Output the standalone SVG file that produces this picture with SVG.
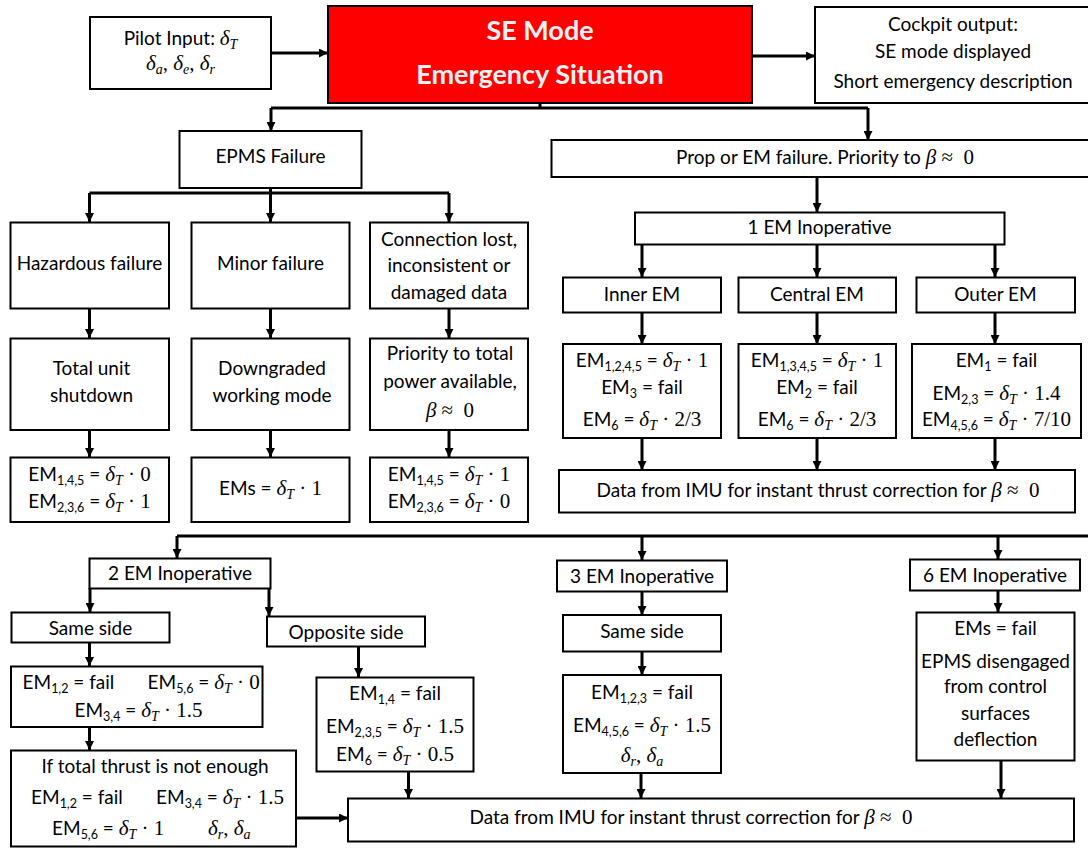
<svg xmlns="http://www.w3.org/2000/svg" width="1088" height="848" viewBox="0 0 1088 848">
<defs>
<marker id="ah" viewBox="0 0 10 10" refX="10" refY="5" markerWidth="9" markerHeight="9" markerUnits="userSpaceOnUse" orient="auto">
<path d="M0,0 L10,5 L0,10 z" fill="#000"/>
</marker>
<style>
rect.b { fill: #fff; stroke: #000; stroke-width: 2; }
rect.red { fill: #ff0000; stroke: #000; stroke-width: 2; }
.c path { fill: none; stroke: #000; stroke-width: 3; }
.c path.a { marker-end: url(#ah); }
text { font-family: Lato, "Open Sans", "Liberation Sans", sans-serif; font-size: 19px; fill: #000; }
text.mid { text-anchor: middle; }
text.title { font-size: 27px; font-weight: bold; fill: #f2f2f2; text-anchor: middle; }
.m { font-family: "Liberation Serif", "DejaVu Serif", serif; font-style: italic; font-size: 21px; }
.n { font-family: "Liberation Serif", "DejaVu Serif", serif; font-size: 21px; }
.s { font-size: 12.5px; }
.ms { font-family: "Liberation Serif", "DejaVu Serif", serif; font-style: italic; font-size: 14px; }
</style>
</defs>
<rect width="1088" height="848" fill="#fff"/>

<g class="c" id="connectors">
<path class="a" d="M271,53 H328"/>
<path class="a" d="M752,56 H815"/>
<path d="M540,103 V108 M271,108 H868"/>
<path class="a" d="M271,108 V131"/>
<path class="a" d="M868,108 V140"/>
<path d="M270.5,188 V193 M89.5,193 H449"/>
<path class="a" d="M89.5,193 V222"/>
<path class="a" d="M270.5,193 V222"/>
<path class="a" d="M449,193 V222"/>
<path class="a" d="M89.5,308 V338"/>
<path class="a" d="M270.5,308 V338"/>
<path class="a" d="M449,308 V338"/>
<path class="a" d="M89.5,430 V457"/>
<path class="a" d="M270.5,430 V457"/>
<path class="a" d="M449,430 V457"/>
<path class="a" d="M817,177 V212"/>
<path class="a" d="M642,244 V277"/>
<path class="a" d="M817,244 V277"/>
<path class="a" d="M995,244 V277"/>
<path class="a" d="M642,313 V344"/>
<path class="a" d="M817,313 V344"/>
<path class="a" d="M995,313 V344"/>
<path class="a" d="M642,438 V470"/>
<path class="a" d="M817,438 V470"/>
<path class="a" d="M995,438 V470"/>
<path d="M177,536 H1090"/>
<path class="a" d="M177,536 V558"/>
<path class="a" d="M642,536 V560"/>
<path class="a" d="M998,536 V559"/>
<path class="a" d="M90,588 V612"/>
<path class="a" d="M269,588 V616"/>
<path class="a" d="M89.5,643 V666"/>
<path class="a" d="M89.5,727 V750"/>
<path class="a" d="M296,818 H348"/>
<path class="a" d="M358.5,647 V677"/>
<path class="a" d="M408.5,772 V798"/>
<path class="a" d="M642,592 V615"/>
<path class="a" d="M642,652 V675"/>
<path class="a" d="M641,773 V798"/>
<path class="a" d="M998,591 V612"/>
<path class="a" d="M1001,761 V798"/>
</g>

<g id="pilot">
<rect class="b" x="90" y="17" width="181" height="72"/>
<text class="mid" x="180.5" y="45">Pilot Input: <tspan class="m">δ</tspan><tspan class="ms" dy="4">T</tspan></text>
<text class="mid" x="180.5" y="70"><tspan class="m">δ</tspan><tspan class="ms" dy="4">a</tspan><tspan class="n" dy="-4">, </tspan><tspan class="m">δ</tspan><tspan class="ms" dy="4">e</tspan><tspan class="n" dy="-4">, </tspan><tspan class="m">δ</tspan><tspan class="ms" dy="4">r</tspan></text>
</g>

<g id="se-mode">
<rect class="red" x="328" y="6" width="424" height="97"/>
<text class="title" x="540" y="40">SE Mode</text>
<text class="title" x="540" y="84">Emergency Situation</text>
</g>

<g id="cockpit">
<rect class="b" x="815" y="7" width="280" height="96"/>
<text class="mid" x="953" y="31">Cockpit output:</text>
<text class="mid" x="953" y="58">SE mode displayed</text>
<text class="mid" x="953" y="88">Short emergency description</text>
</g>

<g id="epms">
<rect class="b" x="179.5" y="131" width="182" height="57"/>
<text class="mid" x="270.5" y="163">EPMS Failure</text>
</g>

<g id="prop">
<rect class="b" x="551.5" y="140" width="545" height="37"/>
<text class="mid" x="825" y="164">Prop or EM failure. Priority to <tspan class="m">β</tspan><tspan class="n">&#160;≈&#160;&#160;0</tspan></text>
</g>

<g id="hazardous">
<rect class="b" x="10.5" y="222.5" width="158.5" height="86"/>
<text class="mid" x="89.5" y="270">Hazardous failure</text>
</g>
<g id="minor">
<rect class="b" x="191.5" y="222.5" width="158" height="86"/>
<text class="mid" x="270.5" y="270">Minor failure</text>
</g>
<g id="connection">
<rect class="b" x="370" y="222.5" width="158" height="86"/>
<text class="mid" x="449" y="245.5">Connection lost,</text>
<text class="mid" x="449" y="272">inconsistent or</text>
<text class="mid" x="449" y="299">damaged data</text>
</g>

<g id="shutdown">
<rect class="b" x="10.5" y="338.5" width="158.5" height="91.5"/>
<text class="mid" x="91.5" y="375">Total unit</text>
<text class="mid" x="91.5" y="402">shutdown</text>
</g>
<g id="downgraded">
<rect class="b" x="191.5" y="338.5" width="158" height="91.5"/>
<text class="mid" x="272" y="375">Downgraded</text>
<text class="mid" x="272" y="402">working mode</text>
</g>
<g id="priority">
<rect class="b" x="370" y="338.5" width="158" height="91.5"/>
<text class="mid" x="450" y="360">Priority to total</text>
<text class="mid" x="450" y="388">power available,</text>
<text class="mid" x="450" y="417"><tspan class="m">β</tspan><tspan class="n">&#160;≈&#160;&#160;0</tspan></text>
</g>

<g id="res-hazardous">
<rect class="b" x="10.5" y="457.5" width="158.5" height="64.5"/>
<text class="mid" x="89.5" y="481">EM<tspan class="s" dy="4">1,4,5</tspan><tspan dy="-4"> = </tspan><tspan class="m">δ</tspan><tspan class="ms" dy="4">T</tspan><tspan class="n" dy="-4"> · 0</tspan></text>
<text class="mid" x="89.5" y="508">EM<tspan class="s" dy="4">2,3,6</tspan><tspan dy="-4"> = </tspan><tspan class="m">δ</tspan><tspan class="ms" dy="4">T</tspan><tspan class="n" dy="-4"> · 1</tspan></text>
</g>
<g id="res-minor">
<rect class="b" x="191.5" y="457.5" width="158" height="64.5"/>
<text class="mid" x="270.5" y="495">EMs = <tspan class="m">δ</tspan><tspan class="ms" dy="4">T</tspan><tspan class="n" dy="-4"> · 1</tspan></text>
</g>
<g id="res-connection">
<rect class="b" x="370" y="457.5" width="158" height="64.5"/>
<text class="mid" x="449" y="481">EM<tspan class="s" dy="4">1,4,5</tspan><tspan dy="-4"> = </tspan><tspan class="m">δ</tspan><tspan class="ms" dy="4">T</tspan><tspan class="n" dy="-4"> · 1</tspan></text>
<text class="mid" x="449" y="508">EM<tspan class="s" dy="4">2,3,6</tspan><tspan dy="-4"> = </tspan><tspan class="m">δ</tspan><tspan class="ms" dy="4">T</tspan><tspan class="n" dy="-4"> · 0</tspan></text>
</g>

<g id="em1-inop">
<rect class="b" x="635" y="212.5" width="369.5" height="32"/>
<text class="mid" x="819.5" y="234">1 EM Inoperative</text>
</g>
<g id="inner">
<rect class="b" x="563" y="277.5" width="158" height="35"/>
<text class="mid" x="642" y="300.5">Inner EM</text>
</g>
<g id="central">
<rect class="b" x="738.5" y="277.5" width="157.5" height="35"/>
<text class="mid" x="817" y="300.5">Central EM</text>
</g>
<g id="outer">
<rect class="b" x="916.5" y="277.5" width="158.5" height="35"/>
<text class="mid" x="995.5" y="300.5">Outer EM</text>
</g>

<g id="res-inner">
<rect class="b" x="563" y="344" width="158" height="94"/>
<text class="mid" x="642" y="367">EM<tspan class="s" dy="4">1,2,4,5</tspan><tspan dy="-4"> = </tspan><tspan class="m">δ</tspan><tspan class="ms" dy="4">T</tspan><tspan class="n" dy="-4"> · 1</tspan></text>
<text class="mid" x="642" y="393.5">EM<tspan class="s" dy="4">3</tspan><tspan dy="-4"> = fail</tspan></text>
<text class="mid" x="642" y="426">EM<tspan class="s" dy="4">6</tspan><tspan dy="-4"> = </tspan><tspan class="m">δ</tspan><tspan class="ms" dy="4">T</tspan><tspan class="n" dy="-4"> · 2/3</tspan></text>
</g>
<g id="res-central">
<rect class="b" x="738.5" y="344" width="157.5" height="94"/>
<text class="mid" x="817" y="367">EM<tspan class="s" dy="4">1,3,4,5</tspan><tspan dy="-4"> = </tspan><tspan class="m">δ</tspan><tspan class="ms" dy="4">T</tspan><tspan class="n" dy="-4"> · 1</tspan></text>
<text class="mid" x="817" y="393.5">EM<tspan class="s" dy="4">2</tspan><tspan dy="-4"> = fail</tspan></text>
<text class="mid" x="817" y="426">EM<tspan class="s" dy="4">6</tspan><tspan dy="-4"> = </tspan><tspan class="m">δ</tspan><tspan class="ms" dy="4">T</tspan><tspan class="n" dy="-4"> · 2/3</tspan></text>
</g>
<g id="res-outer">
<rect class="b" x="912" y="344" width="169" height="94"/>
<text class="mid" x="996.5" y="367">EM<tspan class="s" dy="4">1</tspan><tspan dy="-4"> = fail</tspan></text>
<text class="mid" x="996.5" y="399.5">EM<tspan class="s" dy="4">2,3</tspan><tspan dy="-4"> = </tspan><tspan class="m">δ</tspan><tspan class="ms" dy="4">T</tspan><tspan class="n" dy="-4"> · 1.4</tspan></text>
<text class="mid" x="996.5" y="426">EM<tspan class="s" dy="4">4,5,6</tspan><tspan dy="-4"> = </tspan><tspan class="m">δ</tspan><tspan class="ms" dy="4">T</tspan><tspan class="n" dy="-4"> · 7/10</tspan></text>
</g>

<g id="imu-top">
<rect class="b" x="559" y="470" width="516" height="42.5"/>
<text class="mid" x="818" y="497">Data from IMU for instant thrust correction for <tspan class="m">β</tspan><tspan class="n">&#160;≈&#160;&#160;0</tspan></text>
</g>

<g id="em2-inop">
<rect class="b" x="89.5" y="558.5" width="181" height="30"/>
<text class="mid" x="180" y="580">2 EM Inoperative</text>
</g>
<g id="same-side-2">
<rect class="b" x="11.5" y="612.5" width="158" height="30"/>
<text class="mid" x="90.5" y="634.5">Same side</text>
</g>
<g id="opposite-side">
<rect class="b" x="267" y="616.5" width="158" height="30"/>
<text class="mid" x="346" y="639">Opposite side</text>
</g>
<g id="res-same-2">
<rect class="b" x="11" y="666.5" width="251.5" height="60.5"/>
<text x="22.5" y="689">EM<tspan class="s" dy="4">1,2</tspan><tspan dy="-4"> = fail</tspan></text>
<text x="147.5" y="689">EM<tspan class="s" dy="4">5,6</tspan><tspan dy="-4"> = </tspan><tspan class="m">δ</tspan><tspan class="ms" dy="4">T</tspan><tspan class="n" dy="-4"> · 0</tspan></text>
<text class="mid" x="138.5" y="717">EM<tspan class="s" dy="4">3,4</tspan><tspan dy="-4"> = </tspan><tspan class="m">δ</tspan><tspan class="ms" dy="4">T</tspan><tspan class="n" dy="-4"> · 1.5</tspan></text>
</g>
<g id="not-enough">
<rect class="b" x="11" y="750.5" width="285" height="96"/>
<text class="mid" x="155" y="773">If total thrust is not enough</text>
<text x="31" y="804">EM<tspan class="s" dy="4">1,2</tspan><tspan dy="-4"> = fail</tspan></text>
<text x="156" y="804">EM<tspan class="s" dy="4">3,4</tspan><tspan dy="-4"> = </tspan><tspan class="m">δ</tspan><tspan class="ms" dy="4">T</tspan><tspan class="n" dy="-4"> · 1.5</tspan></text>
<text x="52" y="835">EM<tspan class="s" dy="4">5,6</tspan><tspan dy="-4"> = </tspan><tspan class="m">δ</tspan><tspan class="ms" dy="4">T</tspan><tspan class="n" dy="-4"> · 1</tspan></text>
<text x="208" y="835"><tspan class="m">δ</tspan><tspan class="ms" dy="4">r</tspan><tspan class="n" dy="-4">, </tspan><tspan class="m">δ</tspan><tspan class="ms" dy="4">a</tspan></text>
</g>
<g id="res-opposite">
<rect class="b" x="316.5" y="677.5" width="157" height="94"/>
<text class="mid" x="395" y="700">EM<tspan class="s" dy="4">1,4</tspan><tspan dy="-4"> = fail</tspan></text>
<text class="mid" x="395" y="733">EM<tspan class="s" dy="4">2,3,5</tspan><tspan dy="-4"> = </tspan><tspan class="m">δ</tspan><tspan class="ms" dy="4">T</tspan><tspan class="n" dy="-4"> · 1.5</tspan></text>
<text class="mid" x="395" y="761">EM<tspan class="s" dy="4">6</tspan><tspan dy="-4"> = </tspan><tspan class="m">δ</tspan><tspan class="ms" dy="4">T</tspan><tspan class="n" dy="-4"> · 0.5</tspan></text>
</g>

<g id="em3-inop">
<rect class="b" x="557" y="560.5" width="170" height="31"/>
<text class="mid" x="642" y="583">3 EM Inoperative</text>
</g>
<g id="same-side-3">
<rect class="b" x="563" y="615" width="158" height="36.5"/>
<text class="mid" x="642" y="638">Same side</text>
</g>
<g id="res-same-3">
<rect class="b" x="563" y="675" width="158" height="98"/>
<text class="mid" x="642" y="699">EM<tspan class="s" dy="4">1,2,3</tspan><tspan dy="-4"> = fail</tspan></text>
<text class="mid" x="642" y="732">EM<tspan class="s" dy="4">4,5,6</tspan><tspan dy="-4"> = </tspan><tspan class="m">δ</tspan><tspan class="ms" dy="4">T</tspan><tspan class="n" dy="-4"> · 1.5</tspan></text>
<text class="mid" x="642" y="762"><tspan class="m">δ</tspan><tspan class="ms" dy="4">r</tspan><tspan class="n" dy="-4">, </tspan><tspan class="m">δ</tspan><tspan class="ms" dy="4">a</tspan></text>
</g>

<g id="em6-inop">
<rect class="b" x="910" y="559.5" width="170" height="31"/>
<text class="mid" x="995" y="582">6 EM Inoperative</text>
</g>
<g id="res-em6">
<rect class="b" x="916.5" y="612.5" width="158" height="148"/>
<text class="mid" x="995.5" y="634.5">EMs = fail</text>
<text class="mid" x="995.5" y="668">EPMS disengaged</text>
<text class="mid" x="995.5" y="693">from control</text>
<text class="mid" x="995.5" y="719.5">surfaces</text>
<text class="mid" x="995.5" y="746">deflection</text>
</g>

<g id="imu-bottom">
<rect class="b" x="348" y="798.5" width="726" height="43"/>
<text class="mid" x="691" y="824">Data from IMU for instant thrust correction for <tspan class="m">β</tspan><tspan class="n">&#160;≈&#160;&#160;0</tspan></text>
</g>
</svg>
